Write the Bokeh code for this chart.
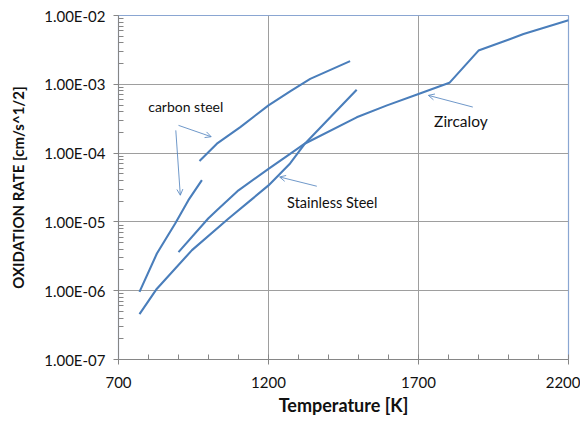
from bokeh.plotting import figure
from bokeh.models import (Range1d, FixedTicker, CustomJSTickFormatter, Arrow, OpenHead, Label)
from bokeh.embed import file_html
from bokeh.resources import INLINE

# ---- data ----
carbon_lo_T = [770, 828, 889, 933, 978]
carbon_lo_rate = [9.6e-7, 3.47e-6, 9.5e-6, 2.07e-5, 4.05e-5]

carbon_hi_T = [970, 1028, 1106, 1200, 1272, 1339, 1472]
carbon_hi_rate = [7.7e-5, 1.37e-4, 2.39e-4, 4.94e-4, 7.9e-4, 1.2e-3, 2.17e-3]

zirc_T = [900, 999, 1028, 1100, 1200, 1272, 1322, 1494, 1595, 1700, 1803, 1900, 2050, 2200]
zirc_rate = [3.63e-6, 1.12e-5, 1.48e-5, 2.88e-5, 5.89e-5, 9.77e-5, 1.38e-4, 3.31e-4,
             4.94e-4, 7.24e-4, 1.05e-3, 3.09e-3, 5.37e-3, 8.51e-3]

ss_T = [770, 828, 945, 1067, 1139, 1200, 1272, 1322, 1406, 1494]
ss_rate = [4.57e-7, 1.07e-6, 3.89e-6, 1.12e-5, 2.04e-5, 3.39e-5, 7.08e-5, 1.38e-4,
           3.31e-4, 8.32e-4]

x_ticks = [700, 1200, 1700, 2200]
x_minor = list(range(700, 2201, 100))
y_decades = [-7, -6, -5, -4, -3, -2]

# annotations: (text, x, y) and arrows (x0, y0, x1, y1)
labels = [("carbon steel", 799, 4.78e-4), ("Stainless Steel", 1262, 1.89e-5),
          ("Zircaloy", 1752, 2.92e-4)]
arrows = [(900, 2.53e-4, 1009, 1.73e-4), (891, 2.14e-4, 906, 2.44e-5),
          (1361, 3.3e-5, 1237, 4.5e-5), (1881, 4.67e-4, 1733, 6.9e-4)]

LINE = "#4A7EBB"
FONT = "Lato"

p = figure(frame_width=450, frame_height=344, y_axis_type="log",
           x_range=Range1d(700, 2200), y_range=Range1d(1e-7, 1e-2),
           output_backend="svg", toolbar_location=None,
           min_border_left=118, min_border_right=12, min_border_top=15, min_border_bottom=54)
p.background_fill_color = "white"
p.border_fill_color = "white"
p.outline_line_color = "#8AA6D2"
p.outline_line_width = 1.2

for xs, ys in [(carbon_lo_T, carbon_lo_rate), (carbon_hi_T, carbon_hi_rate),
               (zirc_T, zirc_rate), (ss_T, ss_rate)]:
    p.line(xs, ys, line_color=LINE, line_width=2.1)

# axes
p.xaxis.ticker = FixedTicker(ticks=x_ticks, minor_ticks=x_minor)
p.yaxis.ticker = FixedTicker(ticks=[10.0 ** d for d in y_decades],
                             minor_ticks=[k * 10.0 ** d for d in y_decades[:-1] for k in range(2, 10)])
p.yaxis.formatter = CustomJSTickFormatter(code="""
var e = Math.round(Math.log10(tick)); var m = tick/Math.pow(10,e);
var s = e < 0 ? '-' : '+'; var a = Math.abs(e);
return m.toFixed(2) + 'E' + s + (a < 10 ? '0' : '') + a;
""")
for ax in (p.xaxis[0], p.yaxis[0]):
    ax.axis_line_color = "#868686"
    ax.major_tick_line_color = "#868686"
    ax.minor_tick_line_color = "#868686"
    ax.major_tick_out = 5
    ax.major_tick_in = 0
    ax.minor_tick_in = 5
    ax.minor_tick_out = 0
    ax.major_label_text_font = FONT
    ax.major_label_text_font_size = "15px"
    ax.major_label_text_color = "#111111"
    ax.axis_label_text_font = FONT
    ax.axis_label_text_font_style = "bold"
    ax.axis_label_text_color = "#111111"

p.xaxis.major_label_standoff = 12
p.xaxis.axis_label = "Temperature [K]"
p.xaxis.axis_label_text_font_size = "18px"
p.xaxis.axis_label_standoff = 3

p.yaxis.major_label_standoff = 8
p.yaxis.axis_label = "OXIDATION RATE [cm/s^1/2]"
p.yaxis.axis_label_text_font_size = "15px"
p.yaxis.axis_label_standoff = 14

p.xgrid.ticker = FixedTicker(ticks=x_ticks)
p.xgrid.grid_line_color = "#9E9E9E"
p.ygrid.grid_line_color = "#9E9E9E"

for x0, y0, x1, y1 in arrows:
    p.add_layout(Arrow(end=OpenHead(size=6, line_color=LINE, line_width=0.8),
                       x_start=x0, y_start=y0, x_end=x1, y_end=y1,
                       line_color=LINE, line_width=0.8))

sizes = {"carbon steel": "14px", "Stainless Steel": "14.5px", "Zircaloy": "15.5px"}
for txt, x, y in labels:
    p.add_layout(Label(x=x, y=y, text=txt, text_font=FONT, text_font_size=sizes[txt],
                       text_baseline="middle", text_align="left", text_color="#111111"))

open("out.html", "w").write(file_html(p, INLINE))
